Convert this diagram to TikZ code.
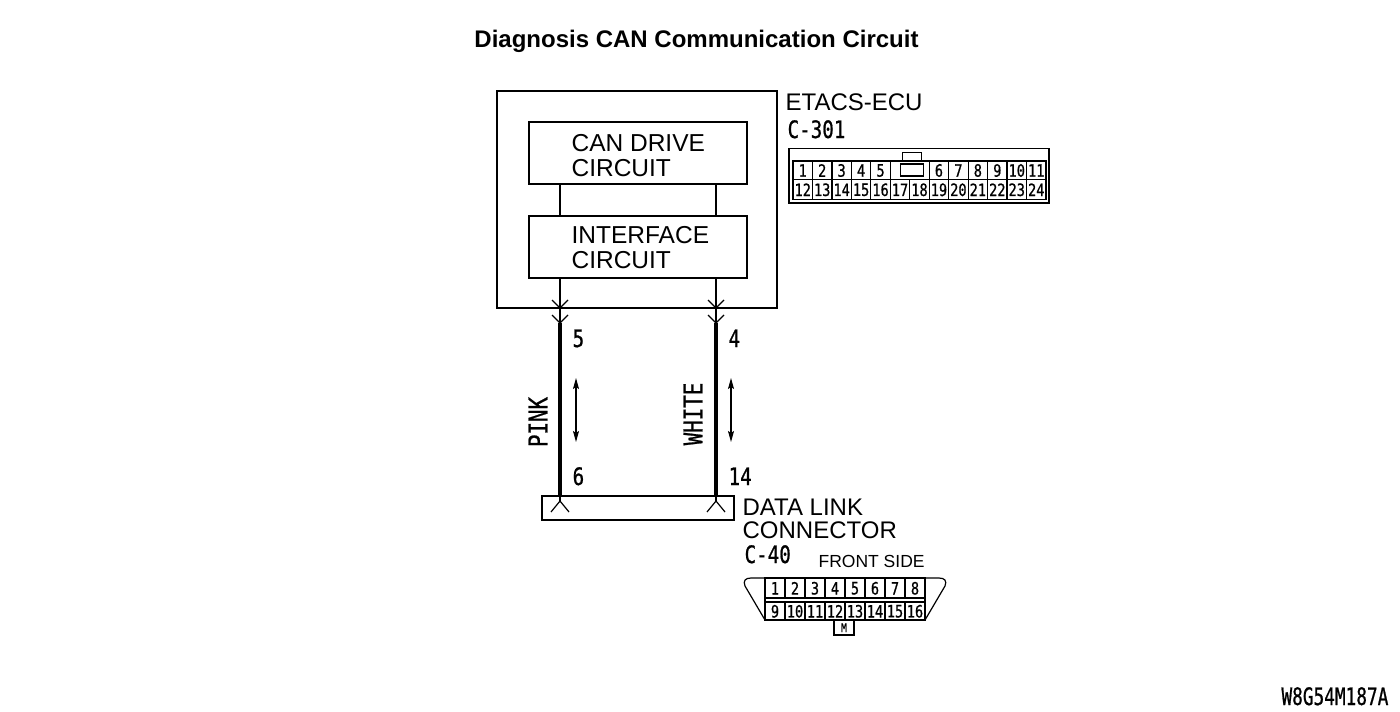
\documentclass[tikz,border=0pt]{standalone}
\usepackage{fontspec}
\setmainfont{Liberation Sans}
\newfontfamily\nar[FakeStretch=0.8,FakeBold=0.8]{DejaVu Sans Mono}
\newfontfamily\narb[FakeStretch=0.74,FakeBold=0.8]{DejaVu Sans Mono}
\usetikzlibrary{arrows.meta}
\begin{document}
\begin{tikzpicture}[x=1pt,y=-1pt,line width=1.2pt,
  box/.style={draw,inner sep=0pt,outer sep=0pt},
  lbl/.style={inner sep=0pt,anchor=base west,font=\fontsize{24}{24}\selectfont},
  blbl/.style={inner sep=0pt,anchor=base west,font=\fontsize{24.5}{24.5}\selectfont},
  nlbl/.style={inner sep=0pt,anchor=base west,font=\nar\fontsize{24}{24}\selectfont},
  pin/.style={inner sep=0pt,font=\nar\fontsize{17}{17}\selectfont},
  thick wire/.style={line width=3.6pt},
  dbl/.style={line width=1.1pt,{Stealth[length=11pt,width=6pt,inset=2pt]}-{Stealth[length=11pt,width=6pt,inset=2pt]}}]
\useasboundingbox (0,0) rectangle (1400,712);

% title
\node[inner sep=0pt,anchor=base,font=\bfseries\fontsize{24}{24}\selectfont] (title) at (696.5,47.5) {Diagnosis CAN Communication Circuit};

% ECU
\node[box,minimum width=280pt,minimum height=217pt] (ecu) at (637,199.5) {};
\node[box,minimum width=218pt,minimum height=62pt] (can) at (638,153) {};
\node[box,minimum width=218pt,minimum height=62pt] (iface) at (638,247) {};
\node[blbl] (canA) at (571,151) {CAN DRIVE};
\node[blbl] (canB) at (571,176) {CIRCUIT};
\node[blbl] (ifA) at (571,243) {INTERFACE};
\node[blbl] (ifB) at (571,268) {CIRCUIT};
\node[lbl] (etacs) at (785,110) {ETACS-ECU};
\node[nlbl] (c301) at (787,138) {C-301};

\coordinate (pL) at (560,0);
\coordinate (pR) at (716,0);
\draw (can.south -| pL) -- (iface.north -| pL);
\draw (can.south -| pR) -- (iface.north -| pR);

% data link connector box
\node[box,minimum width=192pt,minimum height=24pt] (dlc) at (638,508) {};
\coordinate (tL) at (560,323);
\coordinate (tR) at (716,323);
\coordinate (bL) at (560,501);
\coordinate (bR) at (716,501);
\draw (iface.south -| pL) -- (tL);
\draw (iface.south -| pR) -- (tR);
\draw[thick wire] (tL) -- (dlc.north -| pL);
\draw[thick wire] (tR) -- (dlc.north -| pR);
\draw (dlc.north -| pL) -- (bL);
\draw (dlc.north -| pR) -- (bR);
% chevrons
\foreach \x in {560,716}{
  \draw (\x-8,300) -- (\x,308) -- (\x+8,300);
  \draw (\x-8,315) -- (\x,323) -- (\x+8,315);
  \draw (\x-9,512) -- (\x,501) -- (\x+9,512);
}

% wire labels
\node[nlbl] (n5) at (572,347) {5};
\node[nlbl] (n4) at (728,347) {4};
\node[nlbl] (n6) at (572,485) {6};
\node[nlbl] (n14) at (728,485) {14};
\node[inner sep=0pt,rotate=90,font=\nar\fontsize{26}{26}\selectfont] (pink) at (538,422) {PINK};
\node[inner sep=0pt,rotate=90,font=\nar\fontsize{26}{26}\selectfont] (white) at (693,414) {WHITE};
\coordinate (aL1) at (576,378);
\coordinate (aL2) at (576,442);
\coordinate (aR1) at (731,378);
\coordinate (aR2) at (731,442);
\draw[dbl] (aL1) -- (aL2);
\draw[dbl] (aR1) -- (aR2);

\node[lbl] (dl1) at (742,515) {DATA LINK};
\node[lbl] (dl2) at (742,538) {CONNECTOR};
\node[nlbl] (c40) at (744,563) {C-40};
\node[lbl,font=\fontsize{17.5}{17.5}\selectfont] (front) at (818,567) {FRONT SIDE};

% C-301 connector
\draw (789,148.5) rectangle (1049,203);
\draw (793,161) rectangle (1046,199.5);
\draw (793,179.5) -- (1046,179.5);
\foreach \c in {1,2,3,4,5,7,8,9,10,11,12}
  \draw (793+\c*19.46,161) -- (793+\c*19.46,179.5);
\foreach \c in {1,...,12}
  \draw (793+\c*19.46,179.5) -- (793+\c*19.46,199.5);
\draw (900.7,164) rectangle (923.3,176);
\draw (902.7,152.7) rectangle (921.7,161);
\foreach \n [count=\c from 0] in {1,2,3,4,5}
  \node[pin] (ta\n) at (793+\c*19.46+9.73,170.5) {\n};
\foreach \n [count=\c from 7] in {6,7,8,9,10,11}
  \node[pin] (ta\n) at (793+\c*19.46+9.73,170.5) {\n};
\foreach \n [count=\c from 0] in {12,13,...,24}
  \node[pin] (tb\n) at (793+\c*19.46+9.73,189.8) {\n};

% C-40 connector
\draw (765,620) -- (745,586) .. controls (743,581) and (745,578) .. (751,578) -- (939,578)
      .. controls (945,578) and (947,581) .. (945,586) -- (925,620);
\draw (765,578) rectangle (925,620);
\draw (765,598) -- (925,598);
\draw (765,602) -- (925,602);
\foreach \c in {1,...,7}{
  \draw (765+\c*20,578) -- (765+\c*20,598);
  \draw (765+\c*20,602) -- (765+\c*20,620);
}
\foreach \n [count=\c from 0] in {1,...,8}
  \node[pin] (da\n) at (775+\c*20,588.3) {\n};
\foreach \n [count=\c from 0] in {9,...,16}
  \node[pin] (db\n) at (775+\c*20,611.3) {\n};
\draw (834,620) rectangle (854,635);
\node[pin,font=\nar\fontsize{12}{12}\selectfont] (mm) at (844,627.8) {M};

\node[inner sep=0pt,anchor=base east,font=\narb\fontsize{24}{24}\selectfont] (code) at (1389,705) {W8G54M187A};
\end{tikzpicture}
\end{document}
